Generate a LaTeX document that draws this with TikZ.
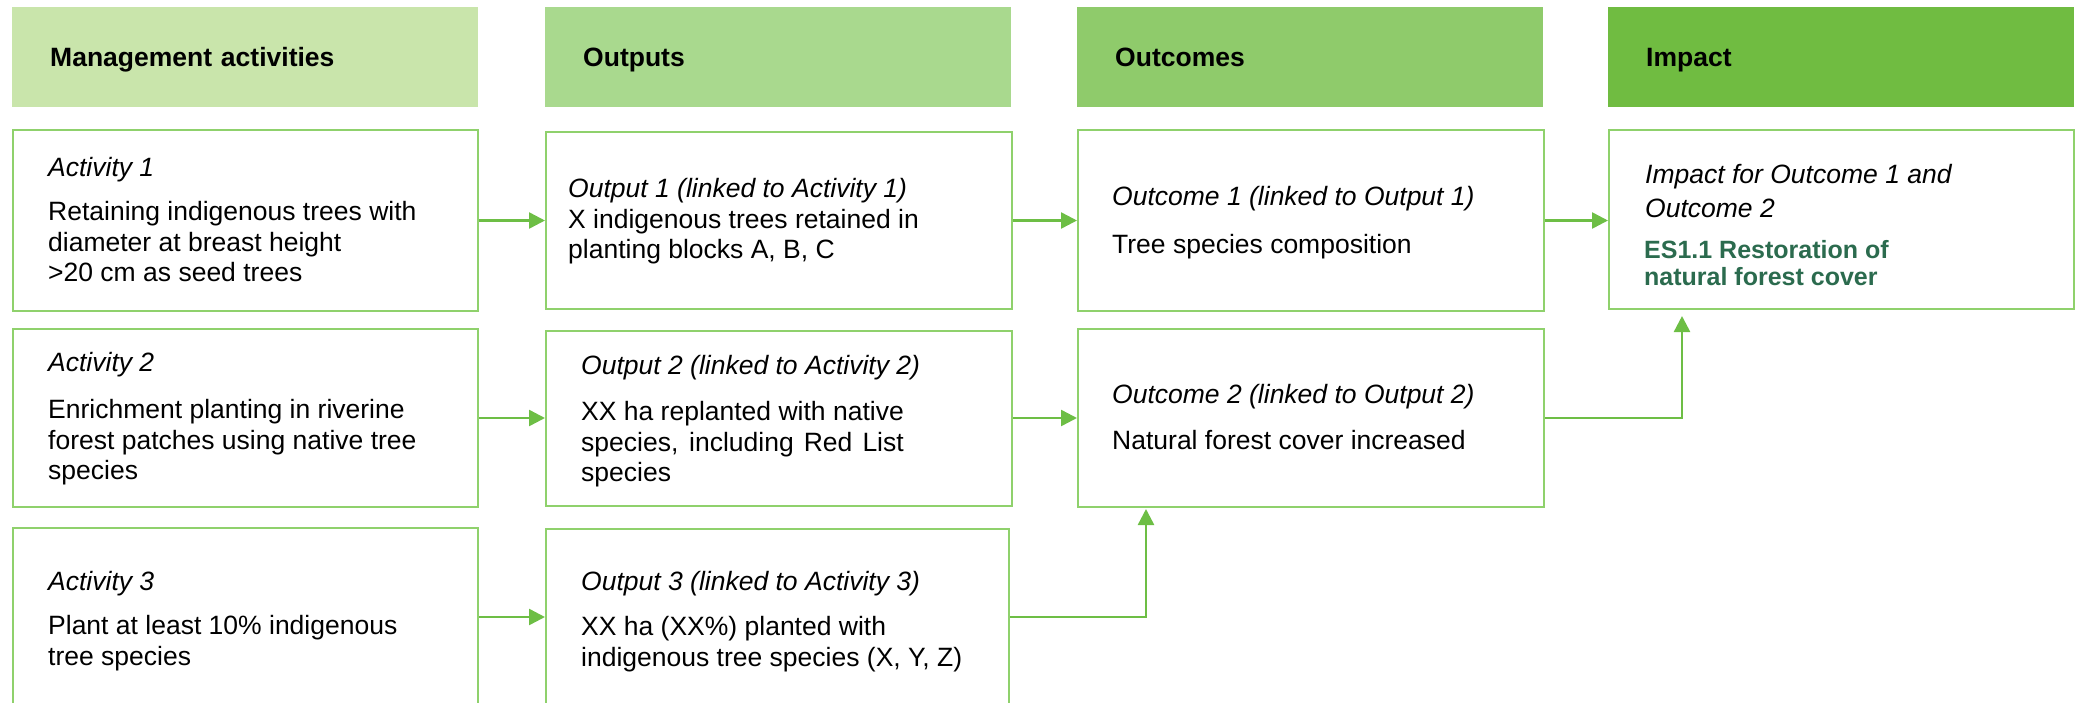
\documentclass[tikz,border=0pt]{standalone}
\usepackage{fontspec}
\setmainfont{Liberation Sans}
\usetikzlibrary{arrows.meta,calc}
\definecolor{hdrA}{HTML}{C9E5AB}
\definecolor{hdrB}{HTML}{A9D98E}
\definecolor{hdrC}{HTML}{8FCB6B}
\definecolor{hdrD}{HTML}{70BC41}
\definecolor{bordergreen}{HTML}{8FD16C}
\definecolor{arrowgreen}{HTML}{6DBE45}
\definecolor{darkteal}{HTML}{2B6B4E}
\newlength\wline
\begin{document}
\begin{tikzpicture}[x=1pt,y=-1pt,
  hdr/.style={anchor=north west, inner xsep=38pt, inner ysep=0pt, minimum height=100pt,
    text width=390pt, text height=19pt, text depth=0pt, align=left,
    font=\bfseries\fontsize{26.5}{30.5}\selectfont},
  box/.style={draw=bordergreen, line width=2pt, fill=white, anchor=north west, inner sep=0pt},
  txt/.style={anchor=north west, inner sep=0pt, align=left, font=\fontsize{26.5}{30.5}\selectfont},
  btxt/.style={anchor=north west, inner sep=0pt, align=left, text=darkteal,
    font=\bfseries\fontsize{25}{25.5}\selectfont},
  arr/.style={draw=arrowgreen, line width=2.5pt, -{Triangle[length=16pt,width=16pt]}}
]
\useasboundingbox (0,0) rectangle (2080,702);

% headers
\node[hdr, fill=hdrA] (H1) at (12,7) {Management activities};
\node[hdr, fill=hdrB] (H2) at (545,7) {Outputs};
\node[hdr, fill=hdrC] (H3) at (1077,7) {Outcomes};
\node[hdr, fill=hdrD] (H4) at (1608,7) {Impact};

% boxes
\node[box, minimum width=465pt, minimum height=181pt] (A1) at (12,129) {};
\node[box, minimum width=466pt, minimum height=177pt] (O1) at (545,131) {};
\node[box, minimum width=466pt, minimum height=181pt] (C1) at (1077,129) {};
\node[box, minimum width=465pt, minimum height=179pt] (I) at (1608,129) {};
\node[box, minimum width=465pt, minimum height=178pt] (A2) at (12,328) {};
\node[box, minimum width=466pt, minimum height=175pt] (O2) at (545,330) {};
\node[box, minimum width=466pt, minimum height=178pt] (C2) at (1077,328) {};
\node[box, minimum width=465pt, minimum height=178pt] (A3) at (12,527) {};
\node[box, minimum width=463pt, minimum height=177pt] (O3) at (545,528) {};

% texts
\node[txt] (tA1) at (48,155.15) {\strut\textit{Activity 1}\\[13.5pt]Retaining indigenous trees with\\diameter at breast height\\>20 cm as seed trees};
\node[txt] (tO1) at (568,176.15) {\strut\textit{Output 1 (linked to Activity 1)}\\X indigenous trees retained in\\planting blocks A, B, C};
\node[txt] (tC1) at (1112,184.15) {\strut\textit{Outcome 1 (linked to Output 1)}\\[17.5pt]Tree species composition};
\node[txt] (tI) at (1645,162.15) {\strut\textit{Impact for Outcome 1 and}\\[3.5pt]\textit{Outcome 2}};
\node[btxt] (tIb) at (1644,240) {\strut ES1.1 Restoration of\\natural forest cover};

\node[txt] (tA2) at (48,350.15) {\strut\textit{Activity 2}\\[16.5pt]Enrichment planting in riverine\\forest patches using native tree\\species};
\node[txt] (tO2) at (581,353.15) {\strut\textit{Output 2 (linked to Activity 2)}\\[15.5pt]XX ha replanted with native\\\settowidth{\wline}{XX ha replanted with native}\makebox[\wline][s]{species, including Red List}\\species};
\node[txt] (tC2) at (1112,382.15) {\strut\textit{Outcome 2 (linked to Output 2)}\\[15.5pt]Natural forest cover increased};

\node[txt] (tA3) at (48,569.15) {\strut\textit{Activity 3}\\[13.5pt]Plant at least 10\% indigenous\\tree species};
\node[txt] (tO3) at (581,569.15) {\strut\textit{Output 3 (linked to Activity 3)}\\[14.5pt]XX ha (XX\%) planted with\\indigenous tree species (X, Y, Z)};

% connectors
\draw[arr] (A1.east) -- (A1.east -| O1.west);
\draw[arr] (A2.east) -- (A2.east -| O2.west);
\draw[arr] (A3.east) -- (A3.east -| O3.west);
\draw[arr] (O1.east |- A1.east) -- (A1.east -| C1.west);
\draw[arr] (O2.east |- A2.east) -- (A2.east -| C2.west);
\draw[arr] (C1.east |- A1.east) -- (A1.east -| I.west);
\draw[arr] (C2.east |- A2.east) -| ($(I.south west)+(74,6)$);
\draw[arr] (O3.east |- A3.east) -| ($(C2.south west)+(69,1)$);
\end{tikzpicture}
\end{document}
